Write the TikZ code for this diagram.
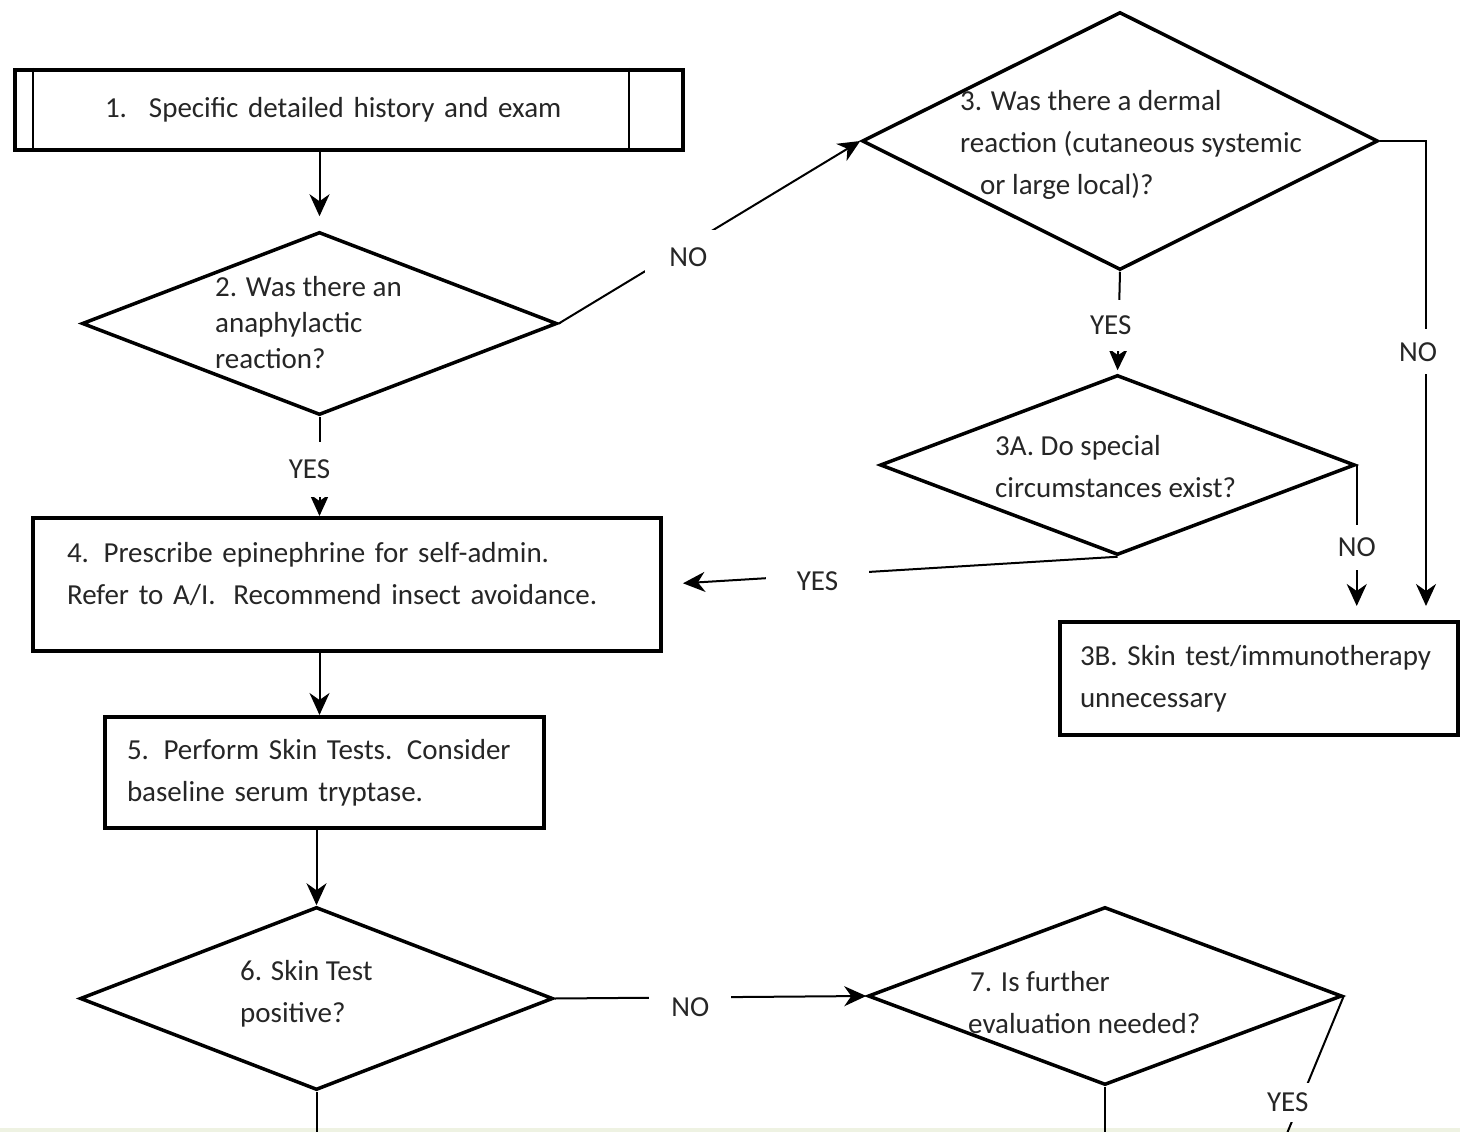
\documentclass[tikz,border=0pt]{standalone}
\usepackage{fontspec}
\setmainfont{Carlito}
\usepackage{xcolor}
\usetikzlibrary{shapes.geometric, arrows.meta}

\definecolor{strip}{HTML}{EEF2E2}

\tikzset{
  stepbox/.style={draw, line width=4pt, align=left, inner ysep=0pt, text=black!85,
    font=\fontsize{29}{42}\selectfont},
  decision/.style={diamond, draw, line width=3.5pt, inner sep=0pt},
  qtext/.style={anchor=west, align=left, inner sep=0pt, text=black!85,
    font=\fontsize{29}{42}\selectfont},
  lbl/.style={fill=white, text=black!85, font=\fontsize{29}{34}\selectfont},
  line/.style={line width=2pt},
  arr/.style={line width=2pt, -{Stealth[length=22pt,width=20pt,inset=7pt]}},
}

\begin{document}
\begin{tikzpicture}[x=1pt,y=-1pt]
    \clip (0,0) rectangle (1460,1132);
    \fill[white] (0,0) rectangle (1460,1132);
    \fill[strip] (0,1128) rectangle (1460,1132);

    \node[stepbox, minimum width=668pt, minimum height=80pt, text width=488pt, inner xsep=90pt]
        (box1) at (349,110) {1.\hspace{22pt}Specific detailed history and exam\rule[-6pt]{0pt}{0pt}};
    \draw[line width=2.5pt] ([xshift=20pt]box1.north west) -- ([xshift=20pt]box1.south west);
    \draw[line width=2.5pt] ([xshift=-56pt]box1.north east) -- ([xshift=-56pt]box1.south east);

    \node[decision, minimum width=475pt, minimum height=183pt] (q2) at (319.5,323.5) {};
    \node[qtext, font=\fontsize{29}{36}\selectfont] (q2t) at (215,323) {2. Was there an\\anaphylactic\\reaction?};

    \node[decision, minimum width=516pt, minimum height=258pt] (q3) at (1120,141) {};
    \node[qtext] (q3t) at (960,145) {3. Was there a dermal\\reaction (cutaneous systemic\\\hspace*{20pt}or large local)?};

    \node[decision, minimum width=475pt, minimum height=180pt] (q3a) at (1117.5,465) {};
    \node[qtext] (q3at) at (995,467) {3A. Do special\\circumstances exist?};

    \node[stepbox, minimum width=398pt, minimum height=113pt, text width=358pt, inner xsep=20pt]
        (box3b) at (1259,678.5) {3B. Skin test/immunotherapy\\unnecessary};

    \node[stepbox, minimum width=628pt, minimum height=133pt, text width=560pt, inner xsep=34pt]
        (box4) at (347,584.5) {4. Prescribe epinephrine for self-admin.\\Refer to A/I.\hspace{8pt} Recommend insect avoidance.\rule[-22pt]{0pt}{0pt}};

    \node[stepbox, minimum width=439pt, minimum height=111pt, text width=395pt, inner xsep=22pt]
        (box5) at (324.5,772.5) {5. Perform Skin Tests. Consider\\baseline serum tryptase.\rule[-4pt]{0pt}{0pt}};

    \node[decision, minimum width=473pt, minimum height=183pt] (q6) at (316.5,998.5) {};
    \node[qtext] (q6t) at (240,994) {6. Skin Test\\positive?};

    \node[decision, minimum width=474pt, minimum height=178pt] (q7) at (1105,996) {};
    \node[qtext] (q7t) at (968,1003) {\hspace*{2pt}7. Is further\\evaluation needed?};

    \coordinate (d6) at (316.5,1150);
    \coordinate (d7) at (1105,1150);
    \coordinate (y7) at (1276,1160);

    \draw[arr, shorten >=14pt] (box1.south -| q2.north) -- (q2.north);
    \draw[arr] (q2.east) -- node[lbl, pos=0.43, inner xsep=24pt, inner ysep=18pt, yshift=-12pt] (no2) {NO} (q3.west);
    \draw[arr] (q2.south) -- node[lbl, pos=0.53, inner xsep=4pt, inner ysep=18pt, xshift=-10pt] (yes2) {YES} (q2.south |- box4.north);
    \draw[arr, shorten >=3pt] (q3.south) -- node[lbl, pos=0.53, inner xsep=4pt, inner ysep=16pt, xshift=-8pt] (yes3) {YES} (q3a.north);
    \draw[arr, shorten >=14pt] (q3.east) -| node[lbl, pos=0.72, inner xsep=4pt, inner ysep=13pt, xshift=-8pt] (no3) {NO} ([xshift=-34pt]box3b.north east);
    \draw[arr, shorten >=14pt] (q3a.east) -- node[lbl, pos=0.53, inner xsep=4pt, inner ysep=13pt] (no3a) {NO} (q3a.east |- box3b.north);
    \draw[arr, shorten >=20pt] (q3a.south) -- node[lbl, pos=0.66, inner xsep=31pt, inner ysep=6pt, yshift=-6pt] (yes3a) {YES} (box4.east);
    \draw[arr] (box4.south -| q2.south) -- (box5.north -| q2.south);
    \draw[arr] (box5.south -| q6.north) -- (q6.north);
    \draw[arr] (q6.east) -- node[lbl, pos=0.435, inner xsep=22pt, inner ysep=8pt, yshift=-10pt] (no6) {NO} (q7.west);
    \draw[line] (q6.south) -- (d6);
    \draw[line] (q7.south) -- (d7);
    \draw[line] (q7.east) -- node[lbl, pos=0.65, inner sep=10pt, xshift=-12pt] (yes7) {YES} (y7);
\end{tikzpicture}
\end{document}
